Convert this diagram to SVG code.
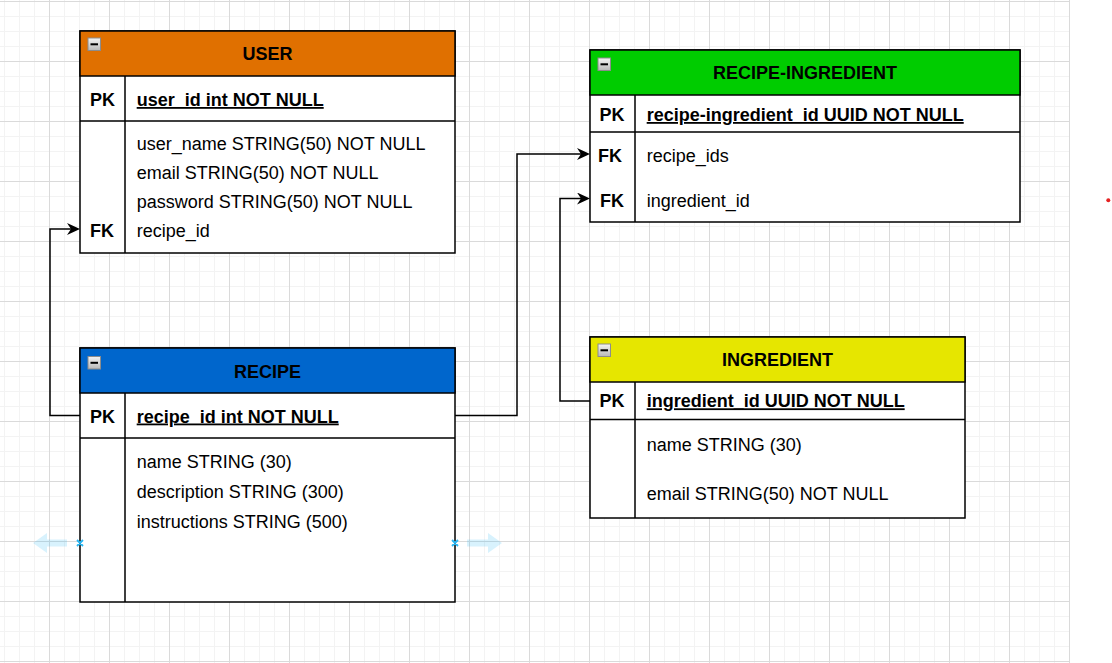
<svg xmlns="http://www.w3.org/2000/svg" width="1112" height="663" viewBox="0 0 1112 663">
<defs>
<style>
.tb{fill:#fff;stroke:#000;stroke-width:1.5}
.ln{stroke:#000;stroke-width:1.5;fill:none}
.t{font-family:"Liberation Sans",Arial,sans-serif;font-size:18px;fill:#000}
.b{font-weight:bold}
.u{text-decoration:underline}
.c{text-anchor:middle}
.cn{fill:none;stroke:#000;stroke-width:1.5;marker-end:url(#arr)}
.hov{fill:#29b6f2;opacity:0.18}
.hx{stroke:#29b6f2;stroke-width:1.8}
</style>
<pattern id="minor" patternUnits="userSpaceOnUse" x="-11" y="1" width="15" height="15">
<rect x="0" y="0" width="1" height="15" fill="#f3f3f3"/>
<rect x="0" y="0" width="15" height="1" fill="#f3f3f3"/>
</pattern>
<pattern id="major" patternUnits="userSpaceOnUse" x="-11" y="1" width="60" height="60">
<rect x="0" y="0" width="1" height="60" fill="#dadada"/>
<rect x="0" y="0" width="60" height="1" fill="#dadada"/>
</pattern>
<linearGradient id="ig" x1="0" y1="0" x2="0" y2="1">
<stop offset="0" stop-color="#f4f4f4"/>
<stop offset="1" stop-color="#b8b8b8"/>
</linearGradient>
<g id="minus">
<rect x="0.5" y="0.5" width="12.5" height="12.5" fill="url(#ig)" stroke="#8c8c8c" stroke-width="1"/>
<rect x="3" y="5.8" width="7.5" height="2" fill="#000"/>
</g>
<marker id="arr" markerUnits="userSpaceOnUse" viewBox="0 0 13 12" refX="8" refY="6" markerWidth="13" markerHeight="12" orient="auto">
<path d="M13,6 L0,0 L4,6 L0,12 Z" fill="#000"/>
</marker>
</defs>
<rect x="0" y="0" width="1112" height="663" fill="#fff"/>
<rect x="0" y="0" width="1070" height="663" fill="url(#minor)"/>
<rect x="0" y="0" width="1070" height="663" fill="url(#major)"/>

<g id="connectors">
<path class="cn" d="M80,415.5 H50 V229 H75"/>
<path class="cn" d="M455,415.5 H517 V154 H585"/>
<path class="cn" d="M590,401 H560 V198.5 H585"/>
</g>

<g id="user">
<rect class="tb" x="80" y="31" width="375" height="222"/>
<rect x="80" y="31" width="375" height="45" fill="#e07000" stroke="#000" stroke-width="1.5"/>
<use href="#minus" x="87.5" y="37.5"/>
<path class="ln" d="M80,121 H455 M125,76 V253"/>
<text class="t b c" x="267.5" y="60">USER</text>
<text class="t b c" x="102.5" y="106">PK</text>
<text class="t b u" x="136.7" y="106">user_id int NOT NULL</text>
<text class="t" x="136.7" y="149.5">user_name STRING(50) NOT NULL</text>
<text class="t" x="136.7" y="178.5">email STRING(50) NOT NULL</text>
<text class="t" x="136.7" y="207.5">password STRING(50) NOT NULL</text>
<text class="t b c" x="102" y="236.5">FK</text>
<text class="t" x="136.7" y="236.5">recipe_id</text>
</g>

<g id="recipe">
<rect class="tb" x="80" y="348" width="375" height="254"/>
<rect x="80" y="348" width="375" height="45" fill="#0066cc" stroke="#000" stroke-width="1.5"/>
<use href="#minus" x="87.5" y="356"/>
<path class="ln" d="M80,438 H455 M125,393 V602"/>
<text class="t b c" x="267.5" y="377.5">RECIPE</text>
<text class="t b c" x="102.5" y="422.5">PK</text>
<text class="t b u" x="136.7" y="422.5">recipe_id int NOT NULL</text>
<text class="t" x="136.7" y="467.7">name STRING (30)</text>
<text class="t" x="136.7" y="497.7">description STRING (300)</text>
<text class="t" x="136.7" y="527.5">instructions STRING (500)</text>
</g>

<g id="recipe-ingredient">
<rect class="tb" x="590" y="50" width="430" height="172"/>
<rect x="590" y="50" width="430" height="45" fill="#00cc00" stroke="#000" stroke-width="1.5"/>
<use href="#minus" x="597.5" y="57.5"/>
<path class="ln" d="M590,132 H1020 M635,95 V222"/>
<text class="t b c" x="805" y="79">RECIPE-INGREDIENT</text>
<text class="t b c" x="612" y="121">PK</text>
<text class="t b u" x="646.7" y="121">recipe-ingredient_id UUID NOT NULL</text>
<text class="t b c" x="610" y="162.3">FK</text>
<text class="t" x="646.7" y="162.3">recipe_ids</text>
<text class="t b c" x="612" y="206.7">FK</text>
<text class="t" x="646.7" y="206.7">ingredient_id</text>
</g>

<g id="ingredient">
<rect class="tb" x="590" y="337" width="375" height="181"/>
<rect x="590" y="337" width="375" height="45" fill="#e6e600" stroke="#000" stroke-width="1.5"/>
<use href="#minus" x="597.5" y="343.5"/>
<path class="ln" d="M590,419.5 H965 M635,382 V518"/>
<text class="t b c" x="777.5" y="366">INGREDIENT</text>
<text class="t b c" x="612" y="407.3">PK</text>
<text class="t b u" x="646.7" y="407.3">ingredient_id UUID NOT NULL</text>
<text class="t" x="646.7" y="450.7">name STRING (30)</text>
<text class="t" x="646.7" y="500">email STRING(50) NOT NULL</text>
</g>

<g id="hover">
<polygon class="hov" points="33,543 47,533 47,539.5 67,539.5 67,546.5 47,546.5 47,553"/>
<polygon class="hov" points="502,543 488,533 488,539.5 467,539.5 467,546.5 488,546.5 488,553"/>
<path class="hx" d="M77,540 L83,546 M83,540 L77,546 M452,540 L458,546 M458,540 L452,546"/>
</g>
<circle cx="1108.3" cy="200.3" r="2" fill="#e52222"/>
</svg>
